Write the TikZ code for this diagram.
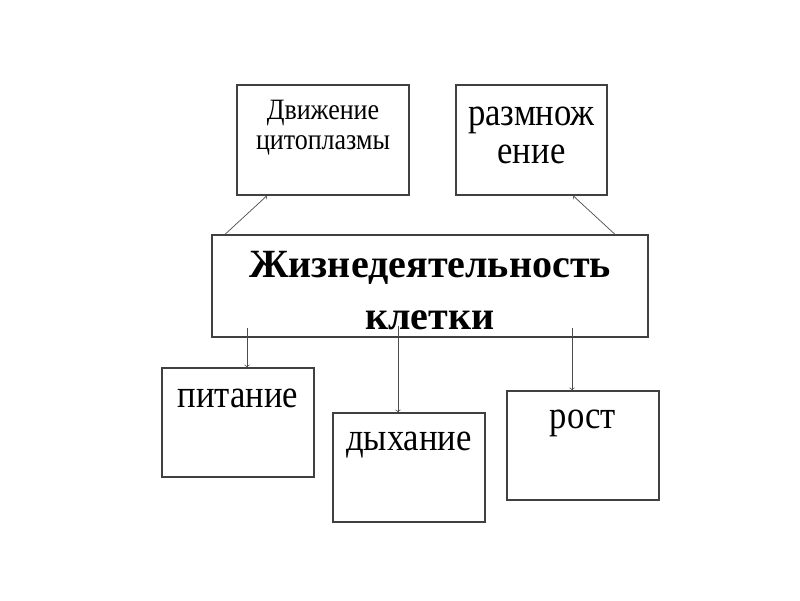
\documentclass[tikz,border=0pt]{standalone}
\usepackage{fontspec,graphicx}
\setmainfont{Liberation Serif}
\newcommand\narrow[1]{\scalebox{0.88}[1]{#1}}
\usetikzlibrary{calc}

\begin{document}
\begin{tikzpicture}[
  box/.style={draw=black!75,line width=0.9pt,minimum width=3.8cm,minimum height=2.725cm,inner sep=0pt},
  txt/.style={anchor=north,align=center,inner sep=0pt,font=\fontsize{28}{27}\selectfont},
  arr/.style={->,draw=black!70,line width=0.5pt}]
\useasboundingbox (0,0) rectangle (20,15);
\node[box,minimum width=4.3cm,minimum height=2.75cm] (dvi) at (8.075,11.5) {};
\node[box,minimum width=3.775cm,minimum height=2.75cm] (razm) at (13.2875,11.5) {};
\node[box,minimum width=10.9cm,minimum height=2.55cm] (main) at (10.75,7.85) {};
\node[box] (pit) at (5.95,4.4375) {};
\node[box] (dyh) at (10.225,3.3125) {};
\node[box] (rost) at (14.575,3.8625) {};
\node[txt,font=\fontsize{21}{21}\selectfont] (tdvi) at ([yshift=-0.39cm]dvi.north) {\narrow{Движение}\\\narrow{цитоплазмы}};
\node[txt] (trazm) at ([yshift=-0.55cm]razm.north) {\narrow{размнож}\\\narrow{ение}};
\node[txt,font=\bfseries\fontsize{28.5}{36.5}\selectfont] (tmain) at ([yshift=-0.425cm]main.north) {Жизнедеятельность\\клетки};
\node[txt] (tpit) at ([yshift=-0.525cm]pit.north) {\narrow{питание}};
\node[txt] (tdyh) at ([yshift=-0.475cm]dyh.north) {\narrow{дыхание}};
\node[txt] (trost) at ([yshift=-0.475cm]rost.north) {\narrow{рост}};
\draw[arr] ([xshift=-5.125cm]main.north) -- ([xshift=-1.4cm]dvi.south);
\draw[arr] ([xshift=4.625cm]main.north) -- ([xshift=1.0375cm]razm.south);
\draw[arr] ($(pit.north |- main.south)+(0.225,0.25)$) -- ([xshift=0.225cm]pit.north);
\draw[arr] ($(dyh.north |- main.south)+(-0.275,0.3)$) -- ([xshift=-0.275cm]dyh.north);
\draw[arr] ($(rost.north |- main.south)+(-0.275,0.25)$) -- ([xshift=-0.275cm]rost.north);
\end{tikzpicture}
\end{document}
